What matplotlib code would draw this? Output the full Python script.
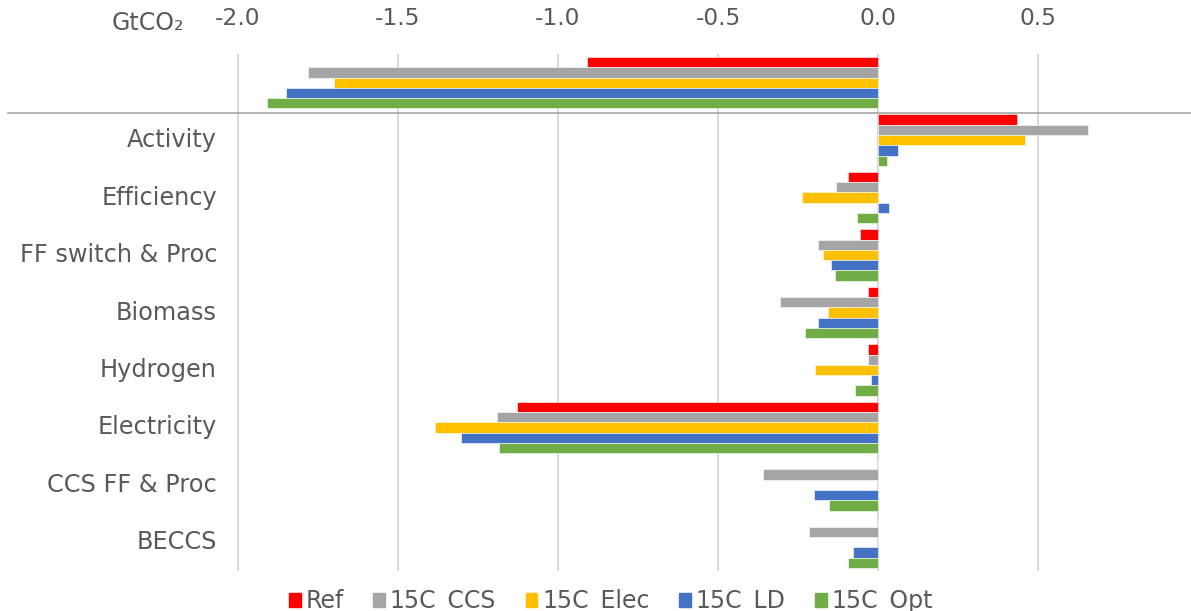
import matplotlib
matplotlib.use("Agg")
import matplotlib.pyplot as plt
import matplotlib.transforms as mtransforms
import numpy as np

categories = ["", "Activity", "Efficiency", "FF switch & Proc", "Biomass",
              "Hydrogen", "Electricity", "CCS FF & Proc", "BECCS"]
series_names = ["Ref", "15C_CCS", "15C_Elec", "15C_LD", "15C_Opt"]
ref  = [-0.91, 0.434, -0.094, -0.056, -0.030, -0.030, -1.127, 0.0, 0.0]
ccs  = [-1.78, 0.656, -0.131, -0.188, -0.306, -0.032, -1.190, -0.360, -0.217]
elec = [-1.70, 0.459, -0.238, -0.171, -0.155, -0.197, -1.384, 0.0, 0.0]
ld   = [-1.85, 0.062, 0.034, -0.147, -0.187, -0.022, -1.302, -0.201, -0.078]
opt  = [-1.91, 0.029, -0.067, -0.134, -0.227, -0.072, -1.185, -0.152, -0.093]
ticks = [-2.0, -1.5, -1.0, -0.5, 0.0, 0.5]
tick_labels = ["-2.0", "-1.5", "-1.0", "-0.5", "0.0", "0.5"]
colors = ["#FF0000", "#A5A5A5", "#FFC000", "#4472C4", "#70AD47"]

plt.rcParams['font.family'] = ['DejaVu Sans']
W, H = 1191, 611
fig = plt.figure(figsize=(W / 100, H / 100), dpi=100)
top_px, bot_px = 54, 571
left_px, right_px = 8, 1191
ax = fig.add_axes([left_px / W, 1 - bot_px / H, (right_px - left_px) / W, (bot_px - top_px) / H])

xmin = (left_px - 878) / 320
xmax = (right_px - 878) / 320
ax.set_xlim(xmin, xmax)
n = len(categories)
ax.set_ylim(n - 0.5, -0.5)

all_series = [ref, ccs, elec, ld, opt]
bh = 0.179
y = np.arange(n)
for j, (vals, c, name) in enumerate(zip(all_series, colors, series_names)):
    ax.barh(y + (j - 2) * bh, vals, height=bh, color=c, label=name,
            edgecolor="white", linewidth=0.4, zorder=3)

ax.set_xticks(ticks)
ax.set_xticklabels(tick_labels)
ax.xaxis.tick_top()
ax.tick_params(axis="x", length=0, pad=17, labelsize=16.8, labelcolor="#595959")
ax.set_yticks([])
for s in ax.spines.values():
    s.set_visible(False)
ax.grid(axis="x", color="#D9D9D9", linewidth=1.5, zorder=0)

trans = mtransforms.blended_transform_factory(fig.transFigure, ax.transData)
for i, cat in enumerate(categories):
    if cat:
        ax.text(217 / W, i, cat, transform=trans, fontsize=17.3, color="#595959",
                ha="right", va="center")

# separator line between total and components
ax.plot([left_px / W, 1.0], [0.53, 0.53], transform=trans, color="#A6A6A6",
        linewidth=1.2, clip_on=False, zorder=4)

fig.text(147.5 / W, 1 - 23 / H, "GtCO₂", fontsize=17, color="#595959",
         ha="center", va="center")

handles = [plt.Rectangle((0, 0), 1, 1, color=c) for c in colors]
fig.legend(handles, series_names, loc="center", bbox_to_anchor=(611 / W, 1 - 602 / H),
           ncol=5, frameon=False, fontsize=17, labelcolor="#595959",
           handlelength=0.5, handleheight=0.5, handletextpad=0.2, columnspacing=1.25,
           borderaxespad=0, borderpad=0)

fig.savefig("out.png", dpi=100)
